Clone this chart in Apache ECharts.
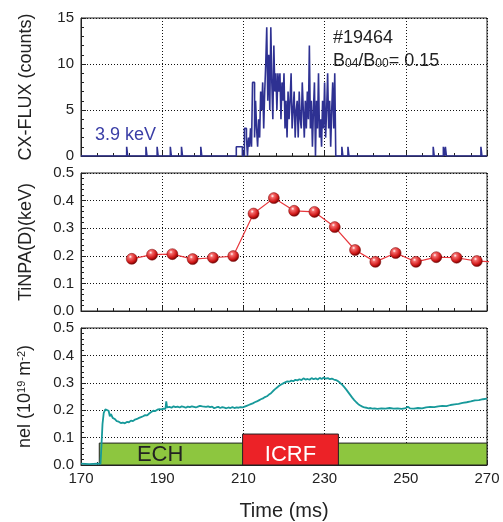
<!DOCTYPE html>
<html>
<head>
<meta charset="utf-8">
<script src="https://cdn.jsdelivr.net/npm/echarts@6/dist/echarts.min.js"></script>
<style>
  html, body { margin: 0; padding: 0; background: #fff; }
  #chart { width: 503px; height: 522px; }
</style>
</head>
<body>
<div id="chart"></div>
<script>
// x axis (ms)
var timeTicks = [170, 190, 210, 230, 250, 270];

// CX-FLUX counts, step signal: value holds from the time until the next one
var fluxTime = [
  170, 181.25, 181.5, 186, 186.25, 188.75, 189, 192, 192.25, 194.75, 195, 199.5, 199.75,
  208.25, 209.75,
  210, 210.25, 210.5, 210.75, 211, 211.25, 211.5, 211.75, 212, 212.25, 212.5, 212.75,
  213, 213.25, 213.5, 213.75, 214, 214.25, 214.5, 214.75, 215, 215.25, 215.5, 215.75,
  216, 216.25, 216.5, 216.75, 217, 217.25, 217.5, 217.75, 218, 218.25, 218.5, 218.75,
  219, 219.25, 219.5, 219.75, 220, 220.25, 220.5, 220.75, 221, 221.25, 221.5, 221.75,
  222, 222.25, 222.5, 222.75, 223, 223.25, 223.5, 223.75, 224, 224.25, 224.5, 224.75,
  225, 225.25, 225.5, 225.75, 226, 226.25, 226.5, 226.75, 227, 227.25, 227.5, 227.75,
  228, 228.25, 228.5, 228.75, 229, 229.25, 229.5, 229.75, 230, 230.25, 230.5, 230.75,
  231, 231.25, 231.5, 231.75, 232, 232.25, 232.5, 232.75,
  234.25, 234.5, 235.75, 236, 256.75, 257, 259.25, 259.5, 259.75, 260, 268.5, 268.75, 270
];
var fluxCount = [
  0, 1, 0, 1, 0, 1, 0, 1, 0, 1, 0, 1, 0,
  1, 0,
  0, 3, 3, 2, 0, 2, 1, 3, 1, 8, 8, 2,
  6, 3, 1, 4, 2, 7, 5, 8, 3, 7, 10, 14,
  6, 11, 5, 14, 8, 4, 12, 7, 9, 5, 9, 7,
  9, 4, 8, 6, 9, 3, 6, 2, 7, 4, 6, 9,
  3, 5, 7, 2, 5, 6, 2, 7, 4, 3, 8, 5,
  2, 6, 3, 7, 4, 12, 3, 6, 1, 5, 8, 0,
  6, 3, 9, 2, 4, 1, 6, 3, 8, 2, 5, 9,
  3, 6, 1, 5, 8, 3, 9, 0,
  1, 0, 1, 0, 1, 0, 1, 0, 1, 0, 1, 0, 0
];

// TiNPA(D) (keV)
var tiTime = [182.5, 187.5, 192.5, 197.5, 202.5, 207.5, 212.5, 217.5, 222.5, 227.5,
  232.5, 237.5, 242.5, 247.5, 252.5, 257.5, 262.5, 267.5, 272.5];
var tiValue = [0.189, 0.204, 0.206, 0.188, 0.193, 0.199, 0.353, 0.409, 0.363, 0.359,
  0.304, 0.221, 0.178, 0.210, 0.178, 0.195, 0.193, 0.181, 0.177];

// line density nel (1e19 m^-2)
var nelTime = [
  170, 172, 174, 174.8, 175, 175.3, 175.6, 176, 176.4, 176.8, 177.1, 177.4, 177.8, 178.3,
  178.8, 179.3, 179.8, 180.3, 180.8, 181.3, 181.8, 182.3, 182.8, 183.3, 183.8, 184.3,
  184.8, 185.3, 185.8, 186.3, 186.8, 187.3, 187.8, 188.3, 188.8, 189.3, 189.8, 190.3,
  190.8, 191, 191.2, 191.8, 192.3, 192.8, 193.3, 193.8, 194.3, 194.8, 195.3, 195.8,
  196.3, 196.8, 197.3, 197.8, 198.3, 198.8, 199.3, 199.6, 199.9, 200.3, 200.8, 201.3,
  201.8, 202.3, 202.8, 203.3, 203.8, 204.3, 204.8, 205.3, 205.8, 206.3, 206.8, 207.3,
  207.8, 208.3, 208.8, 209.3, 209.8, 210.3, 210.8, 211.3, 211.8, 212.3, 212.8, 213.3,
  213.8, 214.3, 214.8, 215.3, 215.8, 216.3, 216.8, 217.3, 217.8, 218.3, 218.8, 219.3,
  219.8, 220.3, 220.8, 221.3, 221.8, 222.3, 222.8, 223.3, 223.8, 224.3, 224.8, 225.3,
  225.8, 226.3, 226.8, 227.3, 227.8, 228.3, 228.8, 229.3, 229.8, 230.3, 230.8, 231.3,
  231.8, 232.3, 232.8, 233.3, 233.8, 234.3, 234.8, 235.3, 235.8, 236.3, 236.8, 237.3,
  237.8, 238.3, 238.8, 239.3, 239.8, 240.3, 240.8, 241.3, 241.8, 242.3, 243, 244, 245,
  246, 247, 248, 249, 250, 250.5, 251, 252, 253, 254, 255, 256, 257, 258, 259, 260,
  261, 262, 263, 264, 265, 266, 267, 268, 269, 270
];
var nelValue = [
  0.005, 0.003, 0.005, 0.004, 0.06, 0.15, 0.19, 0.203, 0.206, 0.198, 0.178, 0.186, 0.172, 0.168,
  0.160, 0.158, 0.153, 0.155, 0.152, 0.157, 0.156, 0.162, 0.160, 0.166, 0.168, 0.172,
  0.175, 0.178, 0.182, 0.181, 0.188, 0.193, 0.198, 0.197, 0.202, 0.204, 0.203, 0.206,
  0.205, 0.232, 0.210, 0.212, 0.209, 0.214, 0.211, 0.213, 0.210, 0.214, 0.212, 0.209,
  0.213, 0.211, 0.214, 0.212, 0.210, 0.213, 0.216, 0.222, 0.214, 0.218, 0.212, 0.214,
  0.211, 0.213, 0.207, 0.210, 0.212, 0.208, 0.211, 0.209, 0.207, 0.210, 0.208, 0.211,
  0.208, 0.210, 0.209, 0.211, 0.210, 0.213, 0.216, 0.219, 0.222, 0.225, 0.229, 0.232,
  0.236, 0.240, 0.243, 0.248, 0.251, 0.257, 0.262, 0.270, 0.277, 0.283, 0.289, 0.294,
  0.298, 0.302, 0.305, 0.304, 0.308, 0.306, 0.311, 0.309, 0.313, 0.310, 0.316, 0.312,
  0.314, 0.311, 0.317, 0.313, 0.316, 0.312, 0.318, 0.314, 0.319, 0.315, 0.317, 0.313,
  0.315, 0.312, 0.310, 0.306, 0.300, 0.293, 0.285, 0.276, 0.266, 0.256, 0.246, 0.237,
  0.229, 0.222, 0.217, 0.213, 0.210, 0.209, 0.207, 0.208, 0.206, 0.207, 0.205, 0.207, 0.206,
  0.208, 0.206, 0.207, 0.205, 0.208, 0.213, 0.207, 0.206, 0.208, 0.207, 0.210, 0.212, 0.211, 0.214, 0.216, 0.215,
  0.219, 0.221, 0.223, 0.227, 0.229, 0.232, 0.236, 0.237, 0.240, 0.242
];

// heating phases
var heatName = ["ECH", "ICRF"];
var heatStart = [174.5, 209.8];
var heatEnd = [270, 233.4];
var heatLevel = [0.08, 0.113];

var chart = echarts.init(document.getElementById("chart"));
var FONT = "Liberation Sans";
var ink = "#222";

function xAx(idx, showLabel) {
  return {
    type: "value", gridIndex: idx, min: 170, max: 270, interval: 20,
    axisLine: { lineStyle: { color: ink } },
    axisTick: { inside: true, length: 5, lineStyle: { color: ink } },
    minorTick: { show: true, splitNumber: 5, length: 3, lineStyle: { color: ink } },
    splitLine: { show: true, lineStyle: { color: "#111", type: [1, 2], width: 1 } },
    axisLabel: { show: showLabel, color: ink, fontSize: 15, fontFamily: FONT, margin: 6 },
    name: showLabel ? "Time (ms)" : "",
    nameLocation: "middle", nameGap: 36,
    nameTextStyle: { color: ink, fontSize: 20, fontFamily: FONT }
  };
}
function yAx(idx, max, interval, name, fmt, rich) {
  return {
    type: "value", gridIndex: idx, min: 0, max: max, interval: interval,
    axisLine: { lineStyle: { color: ink } },
    axisTick: { inside: true, length: 5, lineStyle: { color: ink } },
    minorTick: { show: true, splitNumber: 5, length: 3, lineStyle: { color: ink } },
    splitLine: { show: true, lineStyle: { color: "#111", type: [1, 2], width: 1 } },
    axisLabel: { color: ink, fontSize: 15, fontFamily: FONT, margin: 7, formatter: fmt },
    name: name, nameLocation: "middle", nameGap: 46, nameRotate: 90,
    nameTextStyle: { color: ink, fontSize: 18, fontFamily: FONT, rich: rich }
  };
}

var sphere = {
  type: "radial", x: 0.38, y: 0.32, r: 0.68,
  colorStops: [
    { offset: 0, color: "#ffffff" },
    { offset: 0.22, color: "#f46a6a" },
    { offset: 0.7, color: "#d01818" },
    { offset: 1, color: "#6e0000" }
  ]
};

chart.setOption({
  animation: false,
  textStyle: { fontFamily: FONT },
  grid: [
    { left: 81, right: 16, top: 18, height: 138, show: true, borderColor: ink, borderWidth: 1 },
    { left: 81, right: 16, top: 173, height: 138, show: true, borderColor: ink, borderWidth: 1 },
    { left: 81, right: 16, top: 328, height: 139, show: true, borderColor: ink, borderWidth: 1 }
  ],
  xAxis: [xAx(0, false), xAx(1, false), xAx(2, true)],
  yAxis: [
    yAx(0, 15, 5, "CX-FLUX (counts)", null),
    yAx(1, 0.5, 0.1, "TiNPA(D)(keV)", function (v) { return v.toFixed(1); }),
    yAx(2, 0.5, 0.1, "nel (10{sup|19} m{sup|-2})", function (v) { return v.toFixed(1); },
      { sup: { fontSize: 11, verticalAlign: "top", padding: [0, 0, 8, 0], color: ink, fontFamily: FONT } })
  ],
  series: [
    {
      type: "line", xAxisIndex: 0, yAxisIndex: 0, step: "end", showSymbol: false,
      data: fluxTime.map(function (t, i) { return [t, fluxCount[i]]; }),
      lineStyle: { color: "#2e3192", width: 1.6 }, clip: true
    },
    {
      type: "line", xAxisIndex: 1, yAxisIndex: 1,
      data: tiTime.map(function (t, i) { return [t, tiValue[i]]; }),
      symbol: "circle", symbolSize: 11, clip: true,
      lineStyle: { color: "#e8383d", width: 1.2 },
      itemStyle: { color: sphere, borderColor: "#7a0a0a", borderWidth: 0.5 }
    },
    {
      type: "custom", xAxisIndex: 2, yAxisIndex: 2, z: 1,
      data: heatName.map(function (n, i) { return [heatStart[i], heatEnd[i], heatLevel[i], i]; }),
      renderItem: function (params, api) {
        var i = api.value(3);
        var p0 = api.coord([api.value(0), 0]);
        var p1 = api.coord([api.value(1), api.value(2)]);
        var isEch = i === 0;
        var labelX = isEch ? api.coord([189.5, 0])[0] : (p0[0] + p1[0]) / 2;
        return {
          type: "group",
          children: [
            {
              type: "rect",
              shape: { x: p0[0], y: p1[1], width: p1[0] - p0[0], height: p0[1] - p1[1] },
              style: { fill: isEch ? "#8dc63f" : "#ec2227", stroke: "#222", lineWidth: 1 }
            },
            {
              type: "text",
              style: {
                text: heatName[i], x: labelX, y: (p0[1] + api.coord([0, 0.08])[1]) / 2 + 1,
                align: "center", verticalAlign: "middle",
                fill: isEch ? "#222" : "#fff", fontSize: 22, fontFamily: FONT
              }
            }
          ]
        };
      }
    },
    {
      type: "line", xAxisIndex: 2, yAxisIndex: 2, showSymbol: false, z: 3,
      data: nelTime.map(function (t, i) { return [t, nelValue[i]]; }),
      lineStyle: { color: "#17999a", width: 1.8 }
    }
  ],
  graphic: [
    { type: "text", left: 333, top: 29, style: { text: "#19464", fontSize: 18, fill: "#222", fontFamily: FONT } },
    {
      type: "text", left: 333, top: 52,
      style: {
        text: "B{s|04}/B{s|00}= 0.15", fontSize: 18, fill: "#222", fontFamily: FONT,
        rich: { s: { fontSize: 12, fill: "#222", fontFamily: FONT, padding: [6, 0, 0, 0] } }
      }
    },
    { type: "text", left: 95, top: 126, style: { text: "3.9 keV", fontSize: 18, fill: "#3a3ea6", fontFamily: FONT } }
  ]
});
</script>
</body>
</html>
